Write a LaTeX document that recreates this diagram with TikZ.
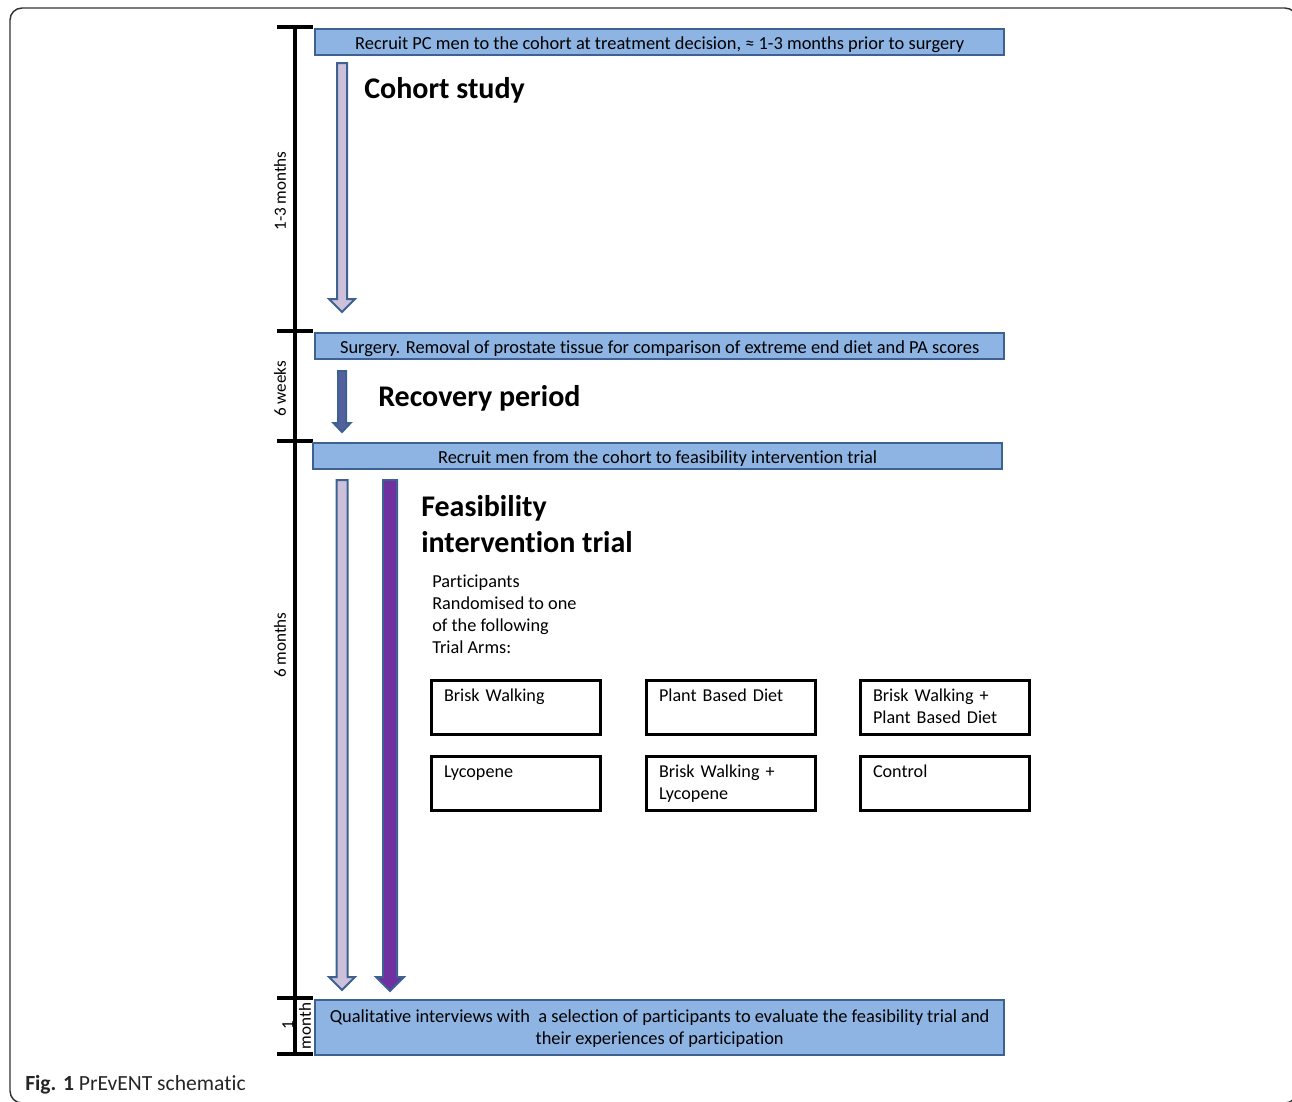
\documentclass[tikz,border=0pt]{standalone}
\usepackage{fontspec}
\setmainfont[Ligatures=NoCommon]{Carlito}
\usepackage{tikz}
\usetikzlibrary{positioning, calc}

\definecolor{barfill}{HTML}{8DB4E2}
\definecolor{barline}{HTML}{3D6190}
\definecolor{lavfill}{HTML}{CCC0DA}
\definecolor{purfill}{HTML}{7030A0}
\definecolor{recfill}{HTML}{55609E}

\begin{document}
\begin{tikzpicture}[
  x=0.75pt, y=-0.75pt,
  bar/.style={rectangle, draw=barline, line width=1.5pt, fill=barfill,
              anchor=north west, inner sep=0pt, align=center,
              minimum width=517pt, minimum height=19.5pt,
              text height=12pt, text depth=1.5pt,
              font=\fontsize{13.8}{16.5}\selectfont},
  arm/.style={rectangle, draw=black, line width=2.2pt, anchor=north west,
              align=left, text width=108pt, text height=11.5pt, text depth=20.4pt,
              inner xsep=9.4pt, inner ysep=4.3pt,
              font=\fontsize{13.6}{16.5}\selectfont},
  head/.style={anchor=west, inner sep=0pt, font=\fontsize{22.5}{27}\selectfont\bfseries},
  span/.style={rotate=90, inner sep=0pt, font=\fontsize{12.8}{14}\selectfont},
  tl/.style={line width=2.3pt, black},
  blk/.style={draw=barline, line width=1.5pt, line join=miter},
  frame/.style={draw=black!80, line width=1.1pt, rounded corners=9pt}
]
\useasboundingbox (0,0) rectangle (1292,1101);
\clip (0,0) rectangle (1292,1101);
%% outer frame
\draw[frame] (10,1103) rectangle (1297,8);
%% time line
\coordinate (tl_top) at (295,27);
\coordinate (tl_bot) at (295,1054);
\draw[tl] (tl_top) -- (tl_bot);
\foreach \y in {27,331,441,998,1054}
  \draw[tl] (277,\y) -- (313,\y);
\node[span] (t_cohort)  at (280,191)  {1-3 months};
\node[span] (t_recov)   at (280,389)  {6 weeks};
\node[span] (t_trial)   at (280,645)  {6 months};
\node[span] (t_one)     at (288,1025) {1};
\node[span] (t_month)   at (305,1026) {month};
%% stage bars
\node[bar] (b_recruit) at (314,28)  {Recruit PC men to the cohort at treatment decision, ≈ 1-3 months prior to surgery};
\node[bar] (b_surgery) at (314,332) {Surgery. Removal of prostate tissue for comparison of extreme end diet and PA scores};
\node[bar] (b_trial)   at (312,442) {Recruit men from the cohort to feasibility intervention trial};
\node[bar, minimum height=41.5pt, text height=27.5pt, text depth=1.8pt] (b_qual) at (314,999)
  {Qualitative interviews with\ \ a selection of participants to evaluate the feasibility trial and\\
   their experiences of participation};
%% headings
\node[head] (h_cohort) at (364,90)  {Cohort study};
\node[head] (h_recov)  at (378,398) {Recovery period};
\node[head, align=left, anchor=north west] (h_trial) at (421,495)
  {Feasibility\\intervention trial};
\node[anchor=north west, inner sep=0pt, align=left,
      font=\fontsize{13.7}{16.5}\selectfont] (p_text) at (432,575)
  {Participants\\Randomised to one\\of the following\\Trial Arms:};
%% trial arms
\node[arm] (a_walk)   at (430,679) {Brisk Walking};
\node[arm] (a_diet)   at (645,679) {Plant Based Diet};
\node[arm] (a_both)   at (859,679) {Brisk Walking +\\Plant Based Diet};
\node[arm] (a_lyco)   at (430,755) {Lycopene};
\node[arm] (a_walkly) at (645,755) {Brisk Walking +\\Lycopene};
\node[arm] (a_ctrl)   at (859,755) {Control};
%% block arrows
\coordinate (ar_c1) at (342,63);
\coordinate (ar_r1) at (342,371);
\coordinate (ar_f1) at (342,480);
\coordinate (ar_f2) at (390,480);
\draw[blk, fill=lavfill] (ar_c1) ++(-5,0) -- ++(10,0) -- ++(0,236) -- ++(8,0)
  -- ++(-13,13) -- ++(-13,-13) -- ++(8,0) -- cycle;
\draw[blk, fill=recfill] (ar_r1) ++(-4,0) -- ++(8,0) -- ++(0,52) -- ++(4.5,0)
  -- ++(-8.5,9) -- ++(-8.5,-9) -- ++(4.5,0) -- cycle;
\draw[blk, fill=lavfill] (ar_f1) ++(-5.5,0) -- ++(11,0) -- ++(0,497) -- ++(7.5,0)
  -- ++(-13,13) -- ++(-13,-13) -- ++(7.5,0) -- cycle;
\draw[blk, fill=purfill] (ar_f2) ++(-7,0) -- ++(14,0) -- ++(0,497) -- ++(7,0)
  -- ++(-14,14) -- ++(-14,-14) -- ++(7,0) -- cycle;
%% caption
\node[anchor=west, inner sep=0pt, text=black!85, font=\fontsize{16.2}{18}\selectfont]
  (cap) at (25,1085) {\textbf{Fig. 1} PrEvENT schematic};
\end{tikzpicture}
\end{document}
